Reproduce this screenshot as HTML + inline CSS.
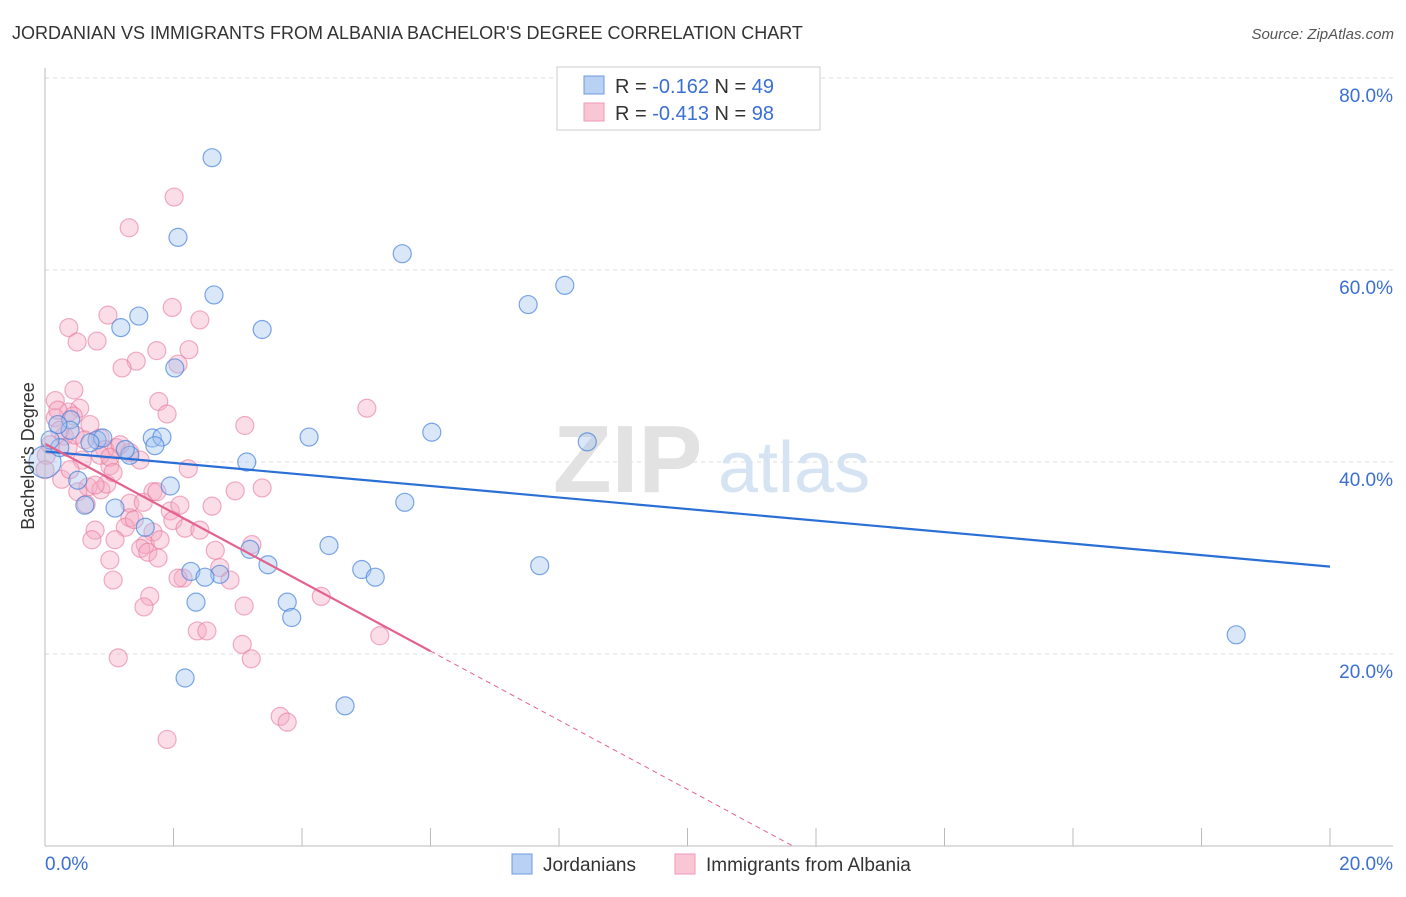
<!DOCTYPE html>
<html><head><meta charset="utf-8"><style>
body{margin:0;background:#fff;font-family:"Liberation Sans",sans-serif}
svg text{font-family:"Liberation Sans",sans-serif}
</style></head><body>
<svg id="chart" width="1406" height="892" viewBox="0 0 1406 892" xmlns="http://www.w3.org/2000/svg">
<text x="12" y="39" font-size="18" fill="#333">JORDANIAN VS IMMIGRANTS FROM ALBANIA BACHELOR'S DEGREE CORRELATION CHART</text>
<text x="1394" y="39" font-size="15" fill="#555" font-style="italic" text-anchor="end">Source: ZipAtlas.com</text>
<g id="grid"></g>
<g><text x="553" y="492" font-size="96" fill="#e2e2e2" font-family="Liberation Serif" font-weight="bold">ZIP</text><text x="718" y="492" font-size="72" fill="#d5e3f3">atlas</text></g>
<g id="pts"></g>
<g id="lines"></g>
<g id="axes"></g>
<text transform="translate(34,456) rotate(-90)" font-size="18" fill="#333" text-anchor="middle">Bachelor's Degree</text>
<g>
<rect x="557" y="67" width="263" height="63" fill="#fff" stroke="#ccc"/>
<rect x="584" y="76" width="20" height="18" fill="#b9d1f3" stroke="#6c9be0"/>
<rect x="584" y="103" width="20" height="18" fill="#f9c6d6" stroke="#ee99b4"/>
<text x="615" y="93" font-size="20" fill="#333">R = <tspan fill="#3b6fd4">-0.162</tspan>   N = <tspan fill="#3b6fd4">49</tspan></text>
<text x="615" y="120" font-size="20" fill="#333">R = <tspan fill="#3b6fd4">-0.413</tspan>   N = <tspan fill="#3b6fd4">98</tspan></text>
</g>
<g>
<rect x="512" y="854" width="20" height="20" fill="#b9d1f3" stroke="#6c9be0"/>
<text x="543" y="871" font-size="19" fill="#333">Jordanians</text>
<rect x="675" y="854" width="20" height="20" fill="#f9c6d6" stroke="#ee99b4"/>
<text x="706" y="871" font-size="19" fill="#333">Immigrants from Albania</text>
</g>
</svg>
<script>
const yTicks=[20,40,60,80];
const yTickLabels=["20.0%","40.0%","60.0%","80.0%"];
const xTicks=[0,2,4,6,8,10,12,14,16,18,20];
const blueX=[2.60,2.07,5.56,8.09,7.52,2.63,1.46,1.18,3.38,2.02,0.40,0.81,0.90,0.70,1.67,1.82,1.71,1.32,4.11,6.02,8.44,3.14,0.0,0.51,1.95,5.60,0.62,1.09,1.56,4.42,3.19,3.47,7.70,4.93,5.14,2.27,2.72,2.49,2.35,3.77,3.84,18.54,2.18,4.67,0.39,0.23,1.25,0.08,0.20];
const blueY=[71.7,63.4,61.7,58.4,56.4,57.4,55.2,54.0,53.8,49.8,44.4,42.3,42.5,42.0,42.5,42.6,41.7,40.7,42.6,43.1,42.1,40.0,40.0,38.1,37.5,35.8,35.5,35.2,33.2,31.3,30.9,29.3,29.2,28.8,28.0,28.6,28.3,28.0,25.4,25.4,23.8,22.0,17.5,14.6,43.3,41.5,41.3,42.3,43.9];
const pinkX=[2.01,1.31,1.98,0.98,2.41,0.37,0.50,0.81,1.74,2.24,1.42,1.20,2.07,0.45,0.16,1.77,1.90,0.54,0.37,5.01,3.11,0.16,0.70,0.44,0.30,0.86,1.11,0.93,1.32,0.58,1.01,2.23,0.26,0.67,0.87,0.96,0.51,1.68,0.64,1.32,1.53,2.96,3.38,2.60,1.32,1.95,1.99,2.18,0.78,1.25,1.68,0.73,1.09,1.56,1.49,1.60,1.76,1.01,2.65,3.22,2.72,1.06,2.15,2.07,1.63,4.30,1.54,3.10,2.37,2.52,3.07,3.21,5.21,1.14,3.66,3.77,1.90,0.02,0.08,0.23,0.36,0.0,0.86,0.47,0.20,1.17,0.62,1.01,2.41,1.74,1.48,0.78,1.06,1.39,2.88,1.79,0.39,2.10];
const pinkY=[67.6,64.4,56.1,55.3,54.8,54.0,52.5,52.6,51.6,51.7,50.5,49.8,50.2,47.5,46.4,46.3,45.0,45.6,45.2,45.6,43.8,44.6,43.9,44.8,42.7,42.5,41.5,41.3,41.0,40.2,39.6,39.3,38.2,37.4,37.1,37.7,36.9,36.9,35.6,35.7,35.8,37.0,37.3,35.4,34.2,34.9,33.9,33.1,32.9,33.2,32.7,31.9,31.9,31.4,31.0,30.6,30.0,29.8,30.8,31.4,29.0,27.7,27.9,27.9,26.0,26.0,24.9,25.0,22.4,22.4,21.0,19.5,21.9,19.6,13.5,12.9,11.1,40.7,41.8,43.3,41.5,39.2,40.7,42.8,45.4,41.8,42.3,40.5,32.9,36.9,40.2,37.6,38.9,34.0,27.7,31.9,39.2,35.5];
const blueTrend=[41.1,29.1];
const pinkTrend=[41.9,-3.6];
const pinkSolidEnd=6.0;
const NS="http://www.w3.org/2000/svg";
const X=v=>45+v/20*1285, Y=v=>846-v*9.6;
function mk(t,a,p){const e=document.createElementNS(NS,t);for(const k in a)e.setAttribute(k,a[k]);p.appendChild(e);return e;}
const grid=document.getElementById('grid'),axes=document.getElementById('axes');
yTicks.forEach((t,i)=>{const l=mk('line',{x1:45,x2:1393,y1:Y(t),y2:Y(t),stroke:'#ddd','stroke-dasharray':'4,4'},grid);


const tx=mk('text',{x:1393,y:Y(t)+24,'font-size':19,fill:'#3b6fd4','text-anchor':'end'},axes);tx.textContent=yTickLabels[i];

});
const g80=mk('line',{x1:45,x2:1393,y1:Y(80),y2:Y(80),stroke:'#ddd','stroke-dasharray':'4,4'},grid);
const ya=mk('line',{x1:45,x2:45,y1:68,y2:846,stroke:'#bbb'},axes);


const xa=mk('line',{x1:45,x2:1393,y1:846,y2:846,stroke:'#bbb'},axes);


xTicks.forEach(t=>{const l=mk('line',{x1:X(t),x2:X(t),y1:828,y2:846,stroke:'#bbb'},axes);

});
[["0.0%",45,'start'],["20.0%",1393,'end']].forEach(d=>{const tx=mk('text',{x:d[1],y:870,'font-size':19,fill:'#3b6fd4','text-anchor':d[2]},axes);tx.textContent=d[0];

});
const pts=document.getElementById('pts');
pinkX.forEach((x,i)=>{const c=mk('circle',{cx:X(x),cy:Y(pinkY[i]),r:9,fill:'rgba(246,170,196,0.4)',stroke:'rgba(232,120,158,0.6)','stroke-width':1.2},pts);

});
blueX.forEach((x,i)=>{const c=mk('circle',{cx:X(x),cy:Y(blueY[i]),r:i==22?16:9,fill:'rgba(160,195,240,0.4)',stroke:'rgba(70,130,220,0.7)','stroke-width':1.2},pts);

});
const ln=document.getElementById('lines');
const bl=mk('line',{x1:X(0),y1:Y(blueTrend[0]),x2:X(20),y2:Y(blueTrend[1]),stroke:'#2a6fd6','stroke-width':2.2},ln);


const pe=pinkTrend[0]+pinkTrend[1]*pinkSolidEnd, xz=-pinkTrend[0]/pinkTrend[1];
const pl=mk('line',{x1:X(0),y1:Y(pinkTrend[0]),x2:X(pinkSolidEnd),y2:Y(pe),stroke:'#e4628f','stroke-width':2.2},ln);


const pd=mk('line',{x1:X(pinkSolidEnd),y1:Y(pe),x2:X(xz),y2:Y(0),stroke:'#e4628f','stroke-width':1,'stroke-dasharray':'5,4'},ln);


</script>
</body></html>
